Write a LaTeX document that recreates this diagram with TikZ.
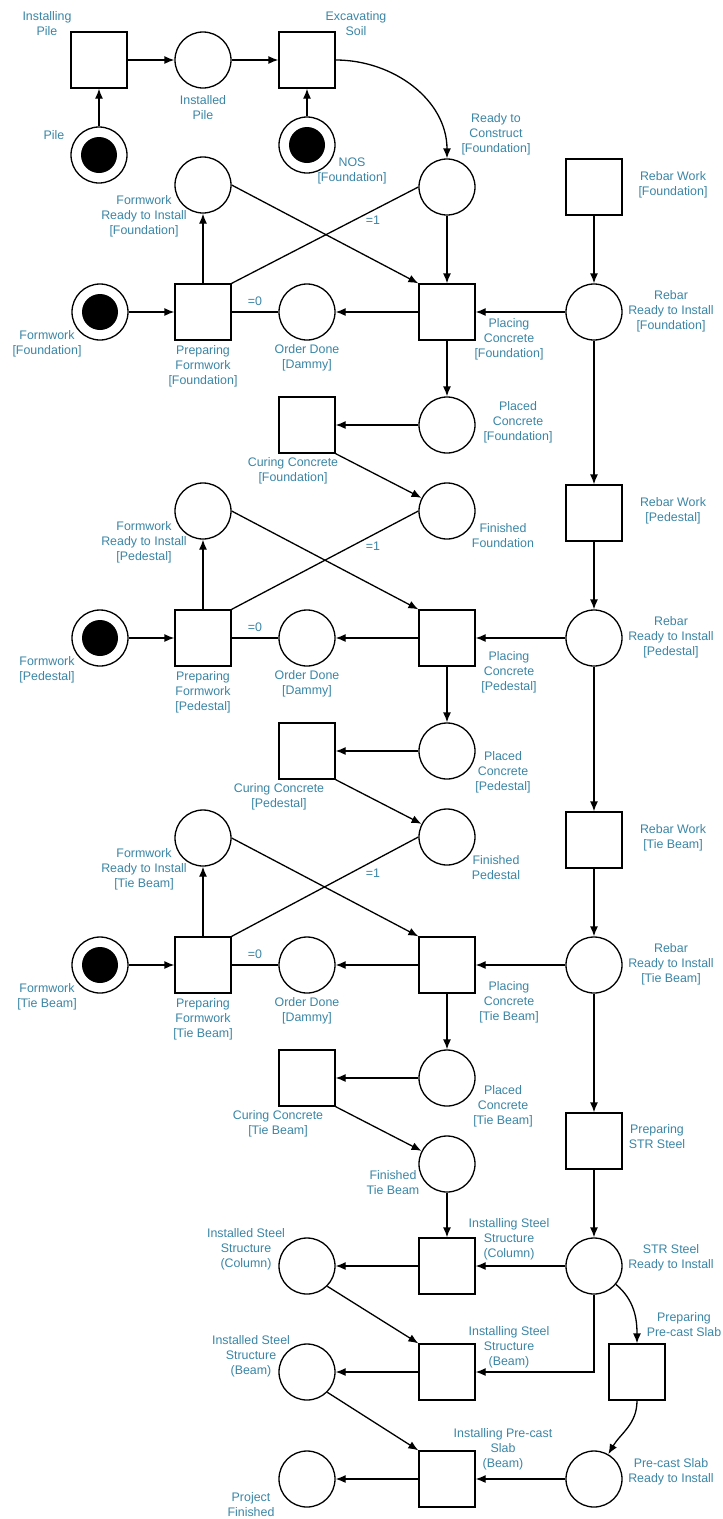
\documentclass[tikz,border=0pt]{standalone}
\usepackage{fontspec}
\setmainfont{Liberation Sans}
\usetikzlibrary{arrows.meta}
\definecolor{lblblue}{RGB}{58,133,165}

\begin{document}
\begin{tikzpicture}[x=1pt,y=-1pt,line width=1.3pt,
        >={Latex[length=10pt,width=8pt]},
        plc/.style={circle,draw,minimum size=56pt,inner sep=0pt},
        trn/.style={rectangle,draw,minimum size=56pt,inner sep=0pt},
        tok/.style={plc,path picture={\fill (path picture bounding box.center) circle (18pt);}},
        lbl/.style={text=lblblue,align=center,inner sep=0pt,font=\fontsize{12.4pt}{15pt}\selectfont},
        arr/.style={->},
        ln/.style={-}]
    \useasboundingbox (0,0) rectangle (723,1519);

    % piles and soil
    \node[trn] (ip) at (99,60) {};
    \node[plc] (ipd) at (203,60) {};
    \node[trn] (es) at (307,60) {};
    \node[tok] (pile) at (99,155) {};
    \node[tok] (nos) at (307,145) {};
    \node[plc] (rtc) at (447,187) {};
    \node[lbl] (ip-l) at (47,24) {Installing\\Pile};
    \node[lbl] (ipd-l) at (203,108) {Installed\\Pile};
    \node[lbl] (es-l) at (356,24) {Excavating\\Soil};
    \node[lbl] (pile-l) at (54,135) {Pile};
    \node[lbl] (nos-l) at (352,171) {NOS\\{}[Foundation]};
    \node[lbl] (rtc-l) at (496,134) {Ready to\\Construct\\{}[Foundation]};
    \draw[arr] (pile) -- (ip);
    \draw[arr] (ip) -- (ipd);
    \draw[arr] (ipd) -- (es);
    \draw[arr] (nos) -- (es);
    \draw[arr] (es) to[out=0,in=90] (rtc);

    % one block per member: foundation, pedestal, tie beam
    \foreach \s/\dy/\nm/\prev/\cx/\py/\qx/\qy/\fx/\fy in
        {f/0/Foundation/rtc/293/339/518/422/503/536,
         p/326/Pedestal/finf/279/672/503/772/496/868,
         t/653/Tie Beam/finp/278/1002/503/1106/393/1183} {
        \node[tok] (tk\s) at (100,312+\dy) {};
        \node[trn] (pf\s) at (203,312+\dy) {};
        \node[plc] (fr\s) at (203,185+\dy) {};
        \node[plc] (od\s) at (307,312+\dy) {};
        \node[trn] (pc\s) at (447,312+\dy) {};
        \node[plc] (pd\s) at (447,425+\dy) {};
        \node[trn] (cc\s) at (307,425+\dy) {};
        \node[plc] (fin\s) at (447,511+\dy) {};
        \node[trn] (rw\s) at (594,187+\dy) {};
        \node[plc] (rr\s) at (594,312+\dy) {};

        \node[lbl] (tk\s-l) at (47,344+\dy) {Formwork\\{}[\nm]};
        \node[lbl] (pf\s-l) at (203,366+\dy) {Preparing\\Formwork\\{}[\nm]};
        \node[lbl] (fr\s-l) at (144,216+\dy) {Formwork\\Ready to Install\\{}[\nm]};
        \node[lbl] (od\s-l) at (307,358+\dy) {Order Done\\{}[Dammy]};
        \node[lbl] (pc\s-l) at (509,\py) {Placing\\Concrete\\{}[\nm]};
        \node[lbl] (pd\s-l) at (\qx,\qy) {Placed\\Concrete\\{}[\nm]};
        \node[lbl] (cc\s-l) at (\cx,471+\dy) {Curing Concrete\\{}[\nm]};
        \node[lbl] (fin\s-l) at (\fx,\fy) {Finished\\\nm};
        \node[lbl] (rw\s-l) at (673,185+\dy) {Rebar Work\\{}[\nm]};
        \node[lbl] (rr\s-l) at (671,311+\dy) {Rebar\\Ready to Install\\{}[\nm]};
        \node[lbl] (eq0\s) at (255,301+\dy) {=0};
        \node[lbl] (eq1\s) at (373,220+\dy) {=1};

        \draw[arr] (tk\s) -- (pf\s);
        \draw[arr] (pf\s) -- (fr\s);
        \draw[arr] (fr\s.east) -- (pc\s.north west);
        \draw[ln] (pf\s.north east) -- (\prev.west);
        \draw[ln] (pf\s) -- (od\s);
        \draw[arr] (pc\s) -- (od\s);
        \draw[arr] (rw\s) -- (rr\s);
        \draw[arr] (rr\s) -- (pc\s);
        \draw[arr] (pc\s) -- (pd\s);
        \draw[arr] (pd\s) -- (cc\s);
        \draw[arr] (cc\s.south east) -- (fin\s);
    }
    \draw[arr] (rtc) -- (pcf);
    \draw[arr] (rrf) -- (rwp);
    \draw[arr] (rrp) -- (rwt);

    % steel structure and slab
    \node[trn] (pstr) at (594,1141) {};
    \node[plc] (str) at (594,1266) {};
    \node[trn] (isc) at (447,1266) {};
    \node[plc] (idc) at (307,1266) {};
    \node[trn] (isb) at (447,1372) {};
    \node[plc] (idb) at (307,1372) {};
    \node[trn] (pps) at (637,1372) {};
    \node[trn] (ips) at (447,1479) {};
    \node[plc] (psr) at (594,1479) {};
    \node[plc] (pfin) at (307,1479) {};
    \node[lbl] (pstr-l) at (657,1137) {Preparing\\STR Steel};
    \node[lbl] (str-l) at (671,1258) {STR Steel\\Ready to Install};
    \node[lbl] (isc-l) at (509,1239) {Installing Steel\\Structure\\(Column)};
    \node[lbl] (idc-l) at (246,1249) {Installed Steel\\Structure\\(Column)};
    \node[lbl] (isb-l) at (509,1347) {Installing Steel\\Structure\\(Beam)};
    \node[lbl] (idb-l) at (251,1356) {Installed Steel\\Structure\\(Beam)};
    \node[lbl] (pps-l) at (684,1325) {Preparing\\Pre-cast Slab};
    \node[lbl] (ips-l) at (503,1449) {Installing Pre-cast\\Slab\\(Beam)};
    \node[lbl] (psr-l) at (671,1472) {Pre-cast Slab\\Ready to Install};
    \node[lbl] (pfin-l) at (251,1505) {Project\\Finished};
    \draw[arr] (rrt) -- (pstr);
    \draw[arr] (pstr) -- (str);
    \draw[arr] (fint) -- (isc);
    \draw[arr] (str) -- (isc);
    \draw[arr] (isc) -- (idc);
    \draw[arr] (idc.south east) -- (isb.north west);
    \draw[arr] (str.south) |- (isb.east);
    \draw[arr] (str) to[out=-40,in=90] (pps);
    \draw[arr] (isb) -- (idb);
    \draw[arr] (idb.south east) -- (ips.north west);
    \draw[arr] (pps) to[out=-90,in=60] (psr);
    \draw[arr] (psr) -- (ips);
    \draw[arr] (ips) -- (pfin);
\end{tikzpicture}
\end{document}
